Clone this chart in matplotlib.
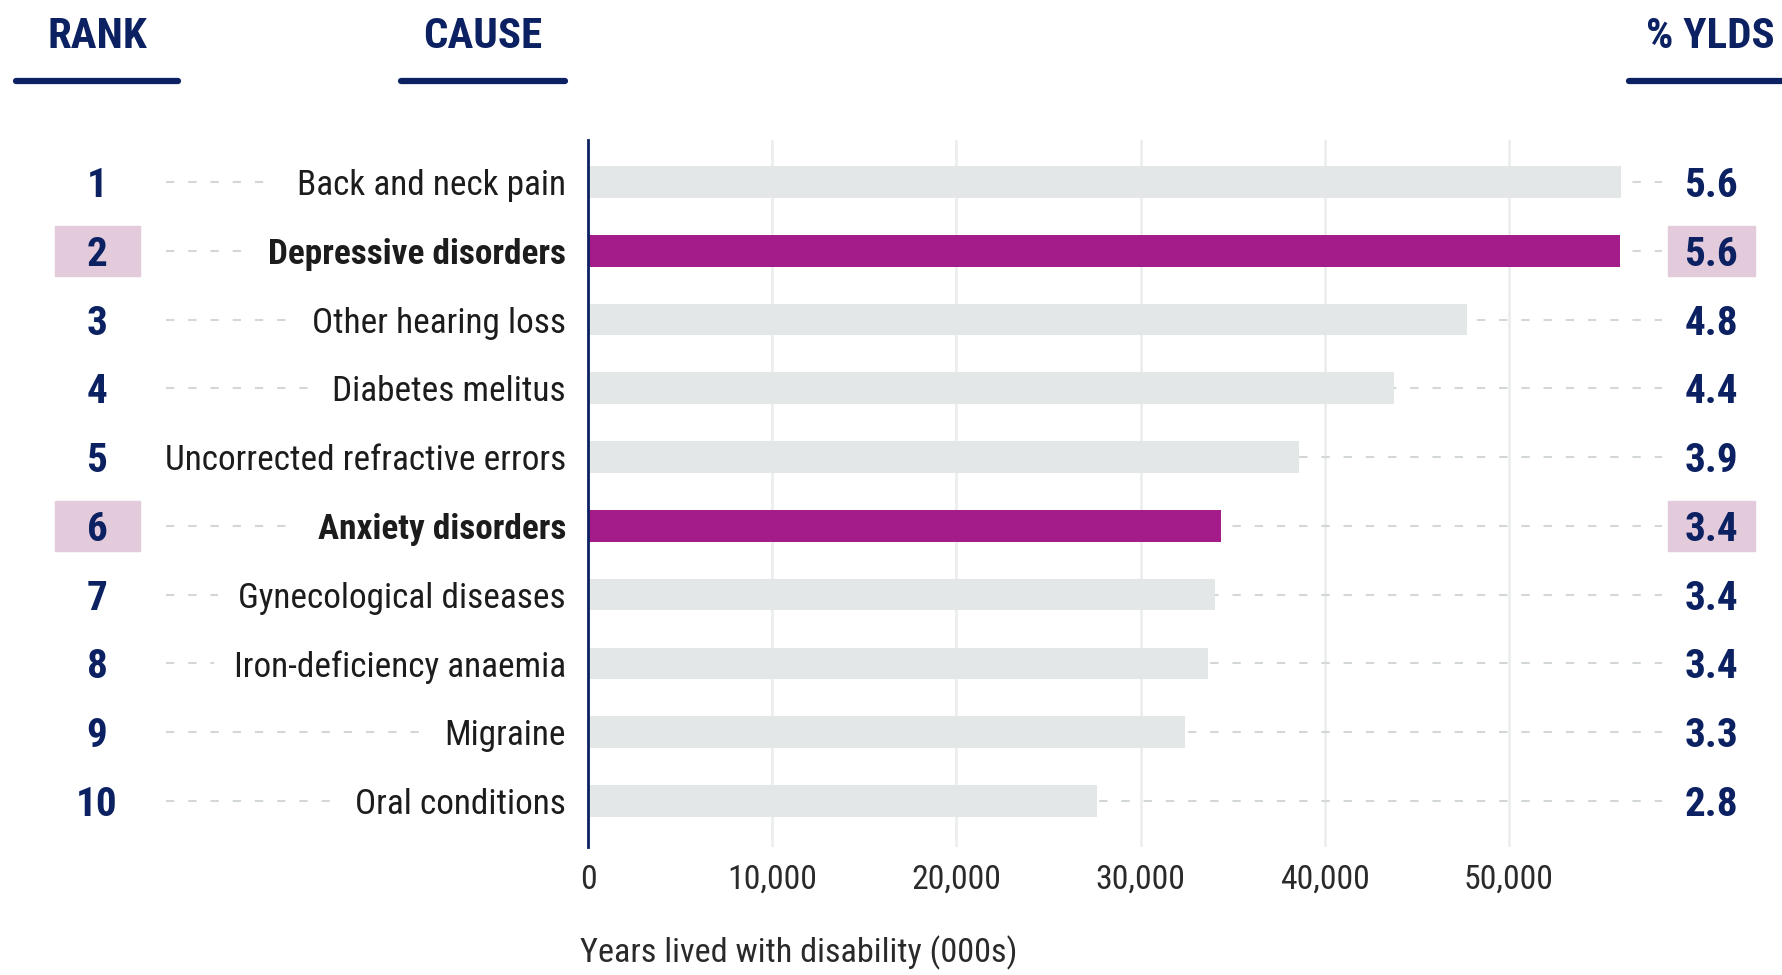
import matplotlib
matplotlib.use("Agg")
import matplotlib.pyplot as plt
from matplotlib import font_manager
from matplotlib.patches import Rectangle
from matplotlib.lines import Line2D

# top 10 causes of years lived with disability
ranks = [1, 2, 3, 4, 5, 6, 7, 8, 9, 10]
causes = ["Back and neck pain", "Depressive disorders", "Other hearing loss",
          "Diabetes melitus", "Uncorrected refractive errors", "Anxiety disorders",
          "Gynecological diseases", "Iron-deficiency anaemia", "Migraine",
          "Oral conditions"]
ylds = [56100, 56000, 47700, 43750, 38600, 34350, 34050, 33650, 32400, 27650]
pct_ylds = [5.6, 5.6, 4.8, 4.4, 3.9, 3.4, 3.4, 3.4, 3.3, 2.8]
highlight = ["Depressive disorders", "Anxiety disorders"]
xticks = [0, 10000, 20000, 30000, 40000, 50000]

NAVY = "#0b2162"
MAGENTA = "#a41c8a"
GREY_BAR = "#e4e7e7"
HILITE = "#e3cbdb"
DASH = "#d3d7d7"
GRID = "#eceeee"
TEXT = "#1c1c1c"

# prefer a narrow face if one is installed
installed = {f.name for f in font_manager.fontManager.ttflist}
family = "Roboto"
for cand in ["Roboto Condensed", "Noto Sans Condensed", "Open Sans Condensed",
             "Liberation Sans Narrow", "Noto Sans Display Condensed"]:
    if cand in installed:
        family = cand
        break
plt.rcParams["font.family"] = [family, "DejaVu Sans"]
plt.rcParams["lines.scale_dashes"] = False

W, H = 1783, 975
fig = plt.figure(figsize=(W / 100, H / 100), dpi=100)
renderer = fig.canvas.get_renderer()


def fit_size(text, width_px, weight="normal"):
    # font size that makes the text span width_px
    t = fig.text(0, 0, text, fontsize=20, fontweight=weight)
    w = t.get_window_extent(renderer).width
    t.remove()
    return 20 * width_px / w


label_fs = fit_size("Uncorrected refractive errors", 399)
xlabel_fs = fit_size("Years lived with disability (000s)", 438)
tick_fs = fit_size("10,000", 90)
num_fs = fit_size("5.6", 54, "bold")
head_fs = fit_size("RANK", 100, "bold")


def fx(px):
    return px / W


def fy(py):
    return 1 - py / H


ax_left, ax_right, ax_top, ax_bot = 588, 1662, 140, 847
ax = fig.add_axes([fx(ax_left), fy(ax_bot), (ax_right - ax_left) / W, (ax_bot - ax_top) / H])
ax.set_xlim(0, (ax_right - ax_left) / 184.2 * 10000)
ax.set_ylim(9.67, -0.61)

rows = list(range(len(causes)))
colors = [MAGENTA if c in highlight else GREY_BAR for c in causes]
ax.barh(rows, ylds, height=0.46, color=colors, zorder=3)

ax.set_xticks(xticks)
ax.set_xticklabels([f"{t:,}" for t in xticks])
ax.set_yticks([])
ax.tick_params(axis="x", length=0, pad=12, labelsize=tick_fs, labelcolor="#2a2a2a")
ax.xaxis.grid(True, color=GRID, lw=2, zorder=0)
ax.set_axisbelow(True)
for s in ["top", "right", "bottom"]:
    ax.spines[s].set_visible(False)
ax.spines["left"].set_color(NAVY)
ax.spines["left"].set_linewidth(2)
ax.spines["left"].set_zorder(5)

ax.set_xlabel("Years lived with disability (000s)", fontsize=xlabel_fs, color="#2a2a2a", loc="left")
ax.xaxis.set_label_coords(-8 / (ax_right - ax_left), (ax_bot - 953) / (ax_bot - ax_top))
ax.xaxis.label.set_va("center")

tr = ax.get_yaxis_transform()
axw = ax_right - ax_left


def axx(px):
    return (px - ax_left) / axw


# dashed leaders behind the bars, out to the percentage column
ax.hlines(rows, 0, 1, transform=tr, colors=DASH, lw=1.5,
          linestyles=(0, (6, 10)), zorder=1, clip_on=False)

labels = []
for r, c in zip(rows, causes):
    t = ax.text(axx(566), r, c, transform=tr, ha="right", va="center_baseline",
                fontsize=label_fs, color=TEXT,
                fontweight="bold" if c in highlight else "normal")
    labels.append(t)

for r, rk, p, c in zip(rows, ranks, pct_ylds, causes):
    if c in highlight:
        for x0, x1 in [(55, 140), (1668, 1755)]:
            ax.add_patch(Rectangle((axx(x0), r - 0.365), (x1 - x0) / axw, 0.73,
                                   transform=tr, color=HILITE, clip_on=False, zorder=0))
    ax.text(axx(97), r, str(rk), transform=tr, ha="center", va="center_baseline",
            fontsize=num_fs, fontweight="bold", color=NAVY)
    ax.text(axx(1711), r, f"{p:.1f}", transform=tr, ha="center", va="center_baseline",
            fontsize=num_fs, fontweight="bold", color=NAVY)

# leaders on the left, from the rank column to each cause label
fig.canvas.draw()
inv = ax.transAxes.inverted()
x_start = axx(166)
for r, t in zip(rows, labels):
    bb = t.get_window_extent(renderer)
    x_end = inv.transform((bb.x0 - 20, 0))[0]
    if x_end > x_start:
        ax.plot([x_start, x_end], [r, r], transform=tr, color=DASH, lw=1.5,
                linestyle=(0, (6, 10)), clip_on=False, zorder=1)

# column headers
for txt, cx, x0, x1 in [("RANK", 97, 16, 178), ("CAUSE", 483, 401, 565),
                        ("% YLDS", 1710, 1629, 1800)]:
    fig.text(fx(cx), fy(32), txt, ha="center", va="center_baseline", fontsize=head_fs,
             fontweight="heavy", color=NAVY)
    fig.add_artist(Line2D([fx(x0), fx(x1)], [fy(81), fy(81)], color=NAVY, lw=4.5,
                          solid_capstyle="round"))

fig.savefig("out.png", dpi=100)
